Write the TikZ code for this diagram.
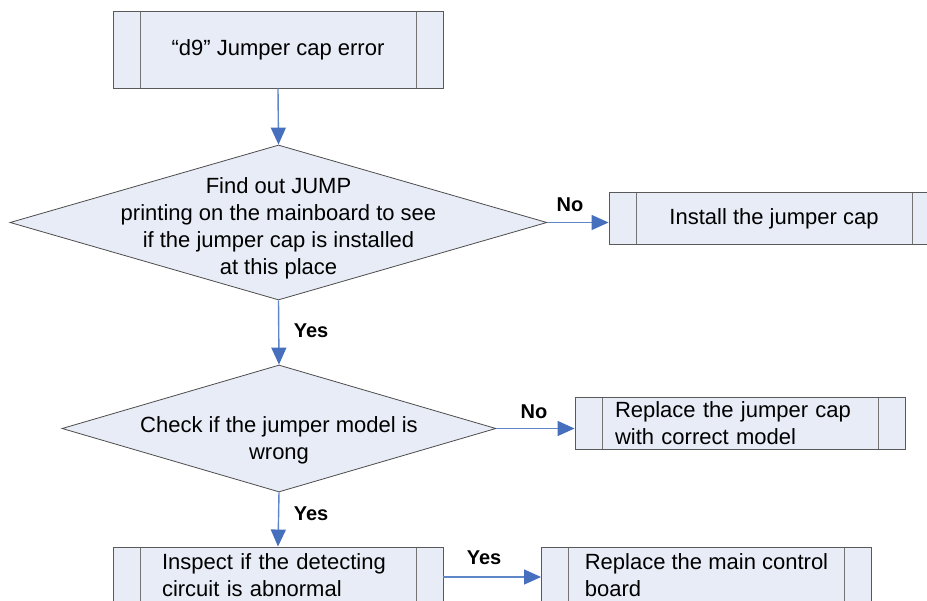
\documentclass[tikz,border=0pt]{standalone}
\usepackage{fontspec}
\setmainfont{Liberation Sans}
\usetikzlibrary{arrows.meta,shapes.geometric}
\definecolor{boxfill}{RGB}{232,236,246}
\definecolor{linecol}{RGB}{95,135,200}
\definecolor{headcol}{RGB}{70,112,190}
\begin{document}
\begin{tikzpicture}[x=1pt,y=-1pt,
  proc/.style={draw=black!65, line width=0.9pt, fill=boxfill, minimum width=330pt, minimum height=52pt,
    inner sep=0pt, align=left, font=\fontsize{22}{27}\selectfont,
    path picture={\draw[black!55, line width=0.9pt]
      ([xshift=27pt]path picture bounding box.north west) -- ([xshift=27pt]path picture bounding box.south west)
      ([xshift=-27pt]path picture bounding box.north east) -- ([xshift=-27pt]path picture bounding box.south east);}},
  decision/.style={diamond, draw=black!70, line width=0.8pt, fill=boxfill, inner sep=0pt},
  txt/.style={align=center, font=\fontsize{22}{27}\selectfont, inner sep=0pt},
  flow/.style={draw=linecol, line width=1.4pt, -{Triangle[length=17pt,width=15pt,color=headcol]}},
  lbl/.style={font=\bfseries\fontsize{20}{24}\selectfont, inner sep=0pt}]
\useasboundingbox (0,0) rectangle (927,601);

\node[proc, minimum height=77pt] (start) at (278,49.5) {\textquotedblleft d9\textquotedblright\ Jumper cap error};

\node[decision, minimum width=537pt, minimum height=155pt] (d1) at (278.5,222.5) {};
\node[txt] (d1t) at (278.5,228) {Find out JUMP\\printing on the mainboard to see\\if the jumper cap is installed\\at this place};

\node[proc] (install) at (774,218.5) {Install the jumper cap};

\node[decision, minimum width=434pt, minimum height=127pt] (d2) at (279,428.5) {};
\node[txt] (d2t) at (279,440) {Check if the jumper model is\\wrong};

\node[proc, text width=250pt] (rep1) at (740,423) {Replace the jumper cap\\with correct model};

\node[proc, minimum height=56pt, text width=232pt] (inspect) at (278,575) {Inspect if the detecting\\circuit is abnormal};
\node[proc, minimum height=56pt] (rep2) at (706.5,575) {Replace the main control\\board};

\draw[flow] (start.south) -- (d1.north);
\draw[flow] (d1.east) -- (d1.east -| install.west);
\node[lbl] (no1) at (570,205) {No};
\draw[flow] (d1.south) -- (d2.north);
\node[lbl] (yes1) at (311,331) {Yes};
\draw[flow] (d2.east) -- (d2.east -| rep1.west);
\node[lbl] (no2) at (534,412) {No};
\draw[flow] (d2.south) -- (inspect.north);
\node[lbl] (yes2) at (311,514) {Yes};
\draw[flow] ([yshift=-2pt]inspect.east) -- ([yshift=-2pt]rep2.west);
\node[lbl] (yes3) at (484,558) {Yes};
\end{tikzpicture}
\end{document}
